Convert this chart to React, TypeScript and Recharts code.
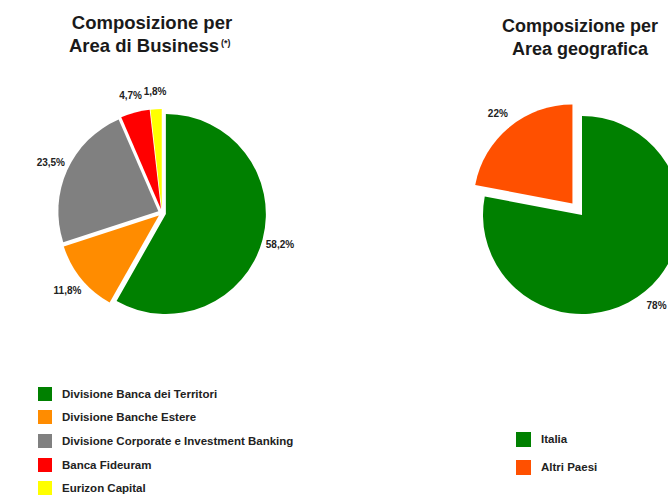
import { Cell, Legend, Pie, PieChart } from "recharts";

const bizNames = [
  "Divisione Banca dei Territori",
  "Divisione Banche Estere",
  "Divisione Corporate e Investment Banking",
  "Banca Fideuram",
  "Eurizon Capital",
];
const bizValues = [58.2, 11.8, 23.5, 4.7, 1.8];
const bizColors = ["#008000", "#ff8c00", "#808080", "#ff0000", "#ffff00"];
const bizExplode = [4, 4, 4, 4, 4];

const geoNames = ["Italia", "Altri Paesi"];
const geoValues = [78, 22];
const geoColors = ["#008000", "#ff5000"];
const geoExplode = [0, 15];

const font = "'Liberation Sans', Arial, sans-serif";
const RAD = Math.PI / 180;

const bizData = bizNames.map((name, i) => ({ name, value: bizValues[i] }));
const geoData = geoNames.map((name, i) => ({ name, value: geoValues[i] }));

// offset of each slice along its middle angle (start at 12 o'clock, clockwise)
function offsets(values: number[], dist: number[]) {
  const total = values.reduce((a, b) => a + b, 0);
  let acc = 0;
  return values.map((v, i) => {
    const mid = (90 - ((acc + v / 2) / total) * 360) * RAD;
    acc += v;
    return { dx: dist[i] * Math.cos(mid), dy: -dist[i] * Math.sin(mid) };
  });
}

const makeLabel = (only: number, fmt: (v: number) => string) => (p: any) => {
  if (p.index !== only) return <g />;
  const r = p.outerRadius + 18;
  const x = p.cx + r * Math.cos(-p.midAngle * RAD);
  const y = p.cy + r * Math.sin(-p.midAngle * RAD);
  return (
    <text x={x} y={y} textAnchor="middle" dominantBaseline="central" fontFamily={font} fontSize={10} fontWeight="bold" fill="#222">
      {fmt(p.value)}
    </text>
  );
};

const fmtComma = (v: number) => v.toFixed(1).replace(".", ",") + "%";
const fmtInt = (v: number) => v + "%";

function LegendBox({ names, colors, rowH, box }: { names: string[]; colors: string[]; rowH: number; box: number }) {
  return (
    <div>
      {names.map((n, i) => (
        <div key={n} style={{ height: rowH, display: "flex", alignItems: "center" }}>
          <span style={{ width: box, height: box, background: colors[i], marginRight: 10, flexShrink: 0 }} />
          <span style={{ fontFamily: font, fontSize: 11.5, fontWeight: "bold", color: "#222", whiteSpace: "nowrap" }}>{n}</span>
        </div>
      ))}
    </div>
  );
}

function ExplodedPie({ data, colors, dist, cx, cy, r, fmt }: any) {
  const offs = offsets(data.map((d: any) => d.value), dist);
  return data.map((_: any, i: number) => (
    <Pie
      key={i}
      data={data}
      dataKey="value"
      nameKey="name"
      cx={cx + offs[i].dx}
      cy={cy + offs[i].dy}
      outerRadius={r}
      startAngle={90}
      endAngle={-270}
      stroke="none"
      labelLine={false}
      label={makeLabel(i, fmt)}
      legendType="none"
      isAnimationActive={false}
    >
      {data.map((d: any, j: number) => (
        <Cell key={d.name} fill={j === i ? colors[j] : "none"} />
      ))}
    </Pie>
  ));
}

export default function App() {
  return (
    <div style={{ position: "absolute", left: 0, top: 0, width: 668, height: 497, overflow: "hidden", background: "#fff" }}>
      <div style={{ position: "absolute", left: 0, top: 0 }}>
        <PieChart width={334} height={497}>
          {ExplodedPie({ data: bizData, colors: bizColors, dist: bizExplode, cx: 157, cy: 208, r: 100, fmt: fmtComma })}
          <Legend
            content={() => <LegendBox names={bizNames} colors={bizColors} rowH={23.6} box={14} />}
            wrapperStyle={{ left: 38, top: 382, width: 296 }}
          />
        </PieChart>
      </div>
      <div style={{ position: "absolute", left: 334, top: 0 }}>
        <PieChart width={334} height={497}>
          {ExplodedPie({ data: geoData, colors: geoColors, dist: geoExplode, cx: 243, cy: 210, r: 99, fmt: fmtInt })}
          <Legend
            content={() => <LegendBox names={geoNames} colors={geoColors} rowH={28} box={15} />}
            wrapperStyle={{ left: 182, top: 425, width: 150 }}
          />
        </PieChart>
      </div>
      <svg width={668} height={497} style={{ position: "absolute", left: 0, top: 0, pointerEvents: "none" }}>
        <g fontFamily={font} fontWeight="bold" fill="#1a1a1a">
          <text x={152} y={29} fontSize={18.5} textAnchor="middle">Composizione per</text>
          <text x={144} y={52} fontSize={18.5} textAnchor="middle">Area di Business</text>
          <text x={221} y={46} fontSize={9}>(*)</text>
          <text x={580} y={32} fontSize={18} textAnchor="middle">Composizione per</text>
          <text x={580} y={55} fontSize={18} textAnchor="middle">Area geografica</text>
        </g>
      </svg>
    </div>
  );
}
